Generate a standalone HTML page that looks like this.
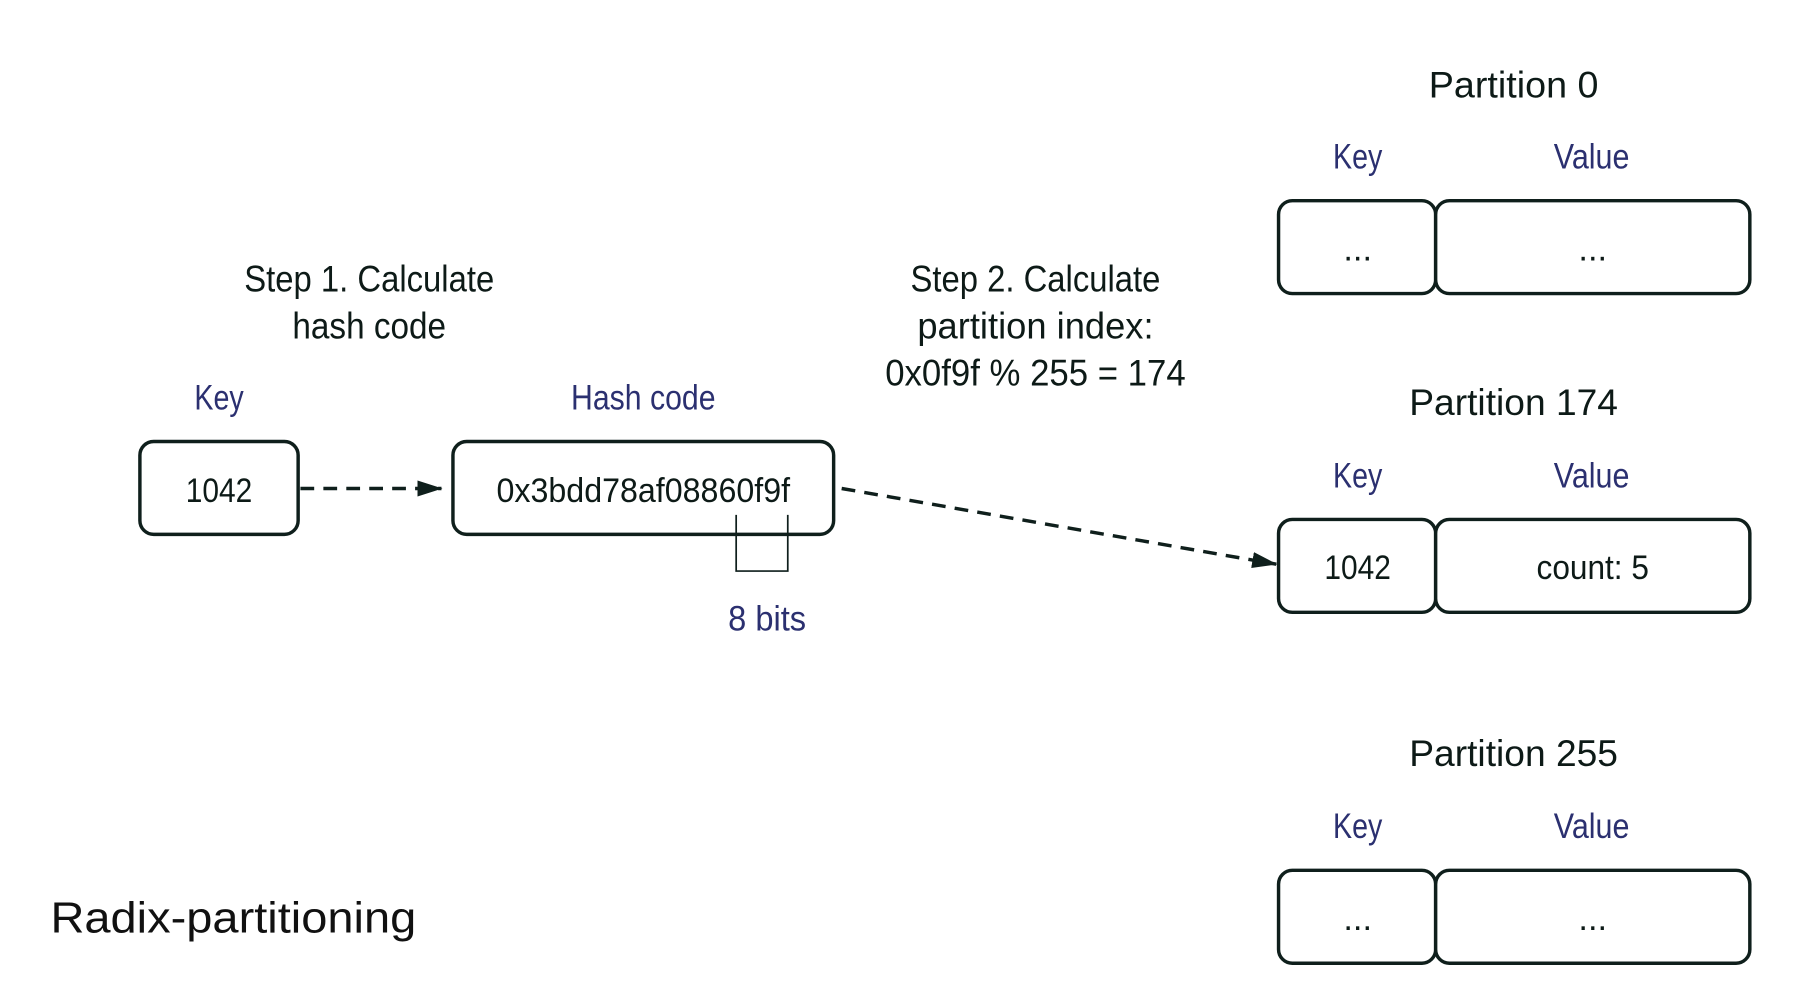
<!DOCTYPE html>
<html><head><meta charset="utf-8"><style>
html,body{margin:0;padding:0;background:#fff;}
svg{display:block}
text{font-family:"Liberation Sans Narrow","Liberation Sans",sans-serif;font-stretch:condensed;}
.t{fill:#0d1a17;font-size:32px;}
.n{fill:#2b3070;font-size:31px;}
.b{fill:#0d1a17;font-size:30px;}
rect{fill:#fff;stroke:#0f1f1c;stroke-width:3}
</style></head><body>
<svg width="1798" height="988" viewBox="0 0 1568 861.6" xmlns="http://www.w3.org/2000/svg">
<defs>
<marker id="ah2" markerWidth="22" markerHeight="16" refX="21" refY="8" orient="auto" markerUnits="userSpaceOnUse" viewBox="0 0 22 16"><path d="M0,1 L22,8 L0,15 z" fill="#0f1f1c"/></marker></defs>

<text class="t" x="322" y="254" text-anchor="middle" textLength="218" lengthAdjust="spacingAndGlyphs">Step 1. Calculate</text>
<text class="t" x="322" y="295" text-anchor="middle" textLength="134" lengthAdjust="spacingAndGlyphs">hash code</text>
<text class="n" x="191" y="357" text-anchor="middle" textLength="43" lengthAdjust="spacingAndGlyphs">Key</text>
<text class="n" x="561" y="357" text-anchor="middle" textLength="126" lengthAdjust="spacingAndGlyphs">Hash code</text>

<rect x="122" y="385" width="138" height="81" rx="12"/>
<text class="b" x="191" y="438" text-anchor="middle" textLength="58" lengthAdjust="spacingAndGlyphs">1042</text>
<rect x="395" y="385" width="332" height="81" rx="12"/>
<text class="b" x="561" y="438" text-anchor="middle" textLength="256" lengthAdjust="spacingAndGlyphs">0x3bdd78af08860f9f</text>

<line x1="262" y1="426" x2="385" y2="426" stroke="#0f1f1c" stroke-width="3" stroke-dasharray="12,8" marker-end="url(#ah2)"/>
<path d="M642,449 L642,498 L687,498 L687,449" fill="none" stroke="#0f1f1c" stroke-width="1.5"/>
<text class="n" x="669" y="550" text-anchor="middle" textLength="68" lengthAdjust="spacingAndGlyphs">8 bits</text>

<text class="t" x="903" y="254" text-anchor="middle" textLength="218" lengthAdjust="spacingAndGlyphs">Step 2. Calculate</text>
<text class="t" x="903" y="295" text-anchor="middle" textLength="206" lengthAdjust="spacingAndGlyphs">partition index:</text>
<text class="t" x="903" y="336" text-anchor="middle" textLength="262" lengthAdjust="spacingAndGlyphs">0x0f9f % 255 = 174</text>

<line x1="734" y1="426" x2="1113" y2="492" stroke="#0f1f1c" stroke-width="3" stroke-dasharray="12,8" marker-end="url(#ah2)"/>

<text class="t" x="1320" y="85" text-anchor="middle" textLength="148" lengthAdjust="spacingAndGlyphs">Partition 0</text>
<text class="n" x="1184" y="147" text-anchor="middle" textLength="43" lengthAdjust="spacingAndGlyphs">Key</text>
<text class="n" x="1388" y="147" text-anchor="middle" textLength="66" lengthAdjust="spacingAndGlyphs">Value</text>
<rect x="1115" y="175" width="137" height="81" rx="12"/>
<rect x="1252" y="175" width="274" height="81" rx="12"/>
<text class="b" x="1184" y="227" text-anchor="middle">...</text>
<text class="b" x="1389" y="227" text-anchor="middle">...</text>

<text class="t" x="1320" y="362" text-anchor="middle" textLength="182" lengthAdjust="spacingAndGlyphs">Partition 174</text>
<text class="n" x="1184" y="425" text-anchor="middle" textLength="43" lengthAdjust="spacingAndGlyphs">Key</text>
<text class="n" x="1388" y="425" text-anchor="middle" textLength="66" lengthAdjust="spacingAndGlyphs">Value</text>
<rect x="1115" y="453" width="137" height="81" rx="12"/>
<rect x="1252" y="453" width="274" height="81" rx="12"/>
<text class="b" x="1184" y="505" text-anchor="middle" textLength="58" lengthAdjust="spacingAndGlyphs">1042</text>
<text class="b" x="1389" y="505" text-anchor="middle" textLength="98" lengthAdjust="spacingAndGlyphs">count: 5</text>

<text class="t" x="1320" y="668" text-anchor="middle" textLength="182" lengthAdjust="spacingAndGlyphs">Partition 255</text>
<text class="n" x="1184" y="731" text-anchor="middle" textLength="43" lengthAdjust="spacingAndGlyphs">Key</text>
<text class="n" x="1388" y="731" text-anchor="middle" textLength="66" lengthAdjust="spacingAndGlyphs">Value</text>
<rect x="1115" y="759" width="137" height="81" rx="12"/>
<rect x="1252" y="759" width="274" height="81" rx="12"/>
<text class="b" x="1184" y="811" text-anchor="middle">...</text>
<text class="b" x="1389" y="811" text-anchor="middle">...</text>

<text x="44" y="813" style="font-family:'Liberation Sans',sans-serif;font-stretch:normal;font-size:38px;fill:#111" textLength="319" lengthAdjust="spacingAndGlyphs">Radix-partitioning</text>
</svg>
</body></html>
